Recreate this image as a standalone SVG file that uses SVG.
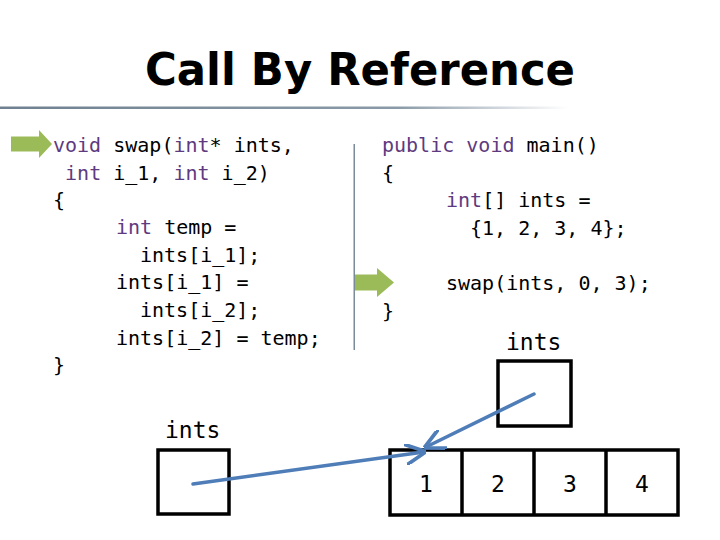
<svg xmlns="http://www.w3.org/2000/svg" width="720" height="540" viewBox="0 0 720 540">
<defs>
<linearGradient id="tl" x1="0" y1="0" x2="1" y2="0">
<stop offset="0" stop-color="#6f8190"/>
<stop offset="0.7" stop-color="#8a9aa8"/>
<stop offset="1" stop-color="#8a9aa8" stop-opacity="0"/>
</linearGradient>
<marker id="ah" viewBox="0 0 10 10" refX="9" refY="5" markerWidth="6" markerHeight="6" orient="auto" markerUnits="strokeWidth">
<path d="M0,0 L10,5 L0,10" fill="none" stroke="#4f7db8" stroke-width="1.8"/>
</marker>
</defs>
<style>
.code{font-family:"DejaVu Sans Mono","Liberation Mono",monospace;font-size:20px;fill:#000}
.kw{fill:#5e3a80}
.lbl{font-family:"DejaVu Sans Mono","Liberation Mono",monospace;font-size:23px;fill:#000}
.num{font-family:"DejaVu Sans Mono","Liberation Mono",monospace;font-size:23px;fill:#000;text-anchor:middle}
.box{fill:#fff;stroke:#000;stroke-width:3.5}
.green{fill:#9bbb59}
.link{stroke:#4f7db8;stroke-width:3.5;fill:none;stroke-linecap:round}
</style>
<rect width="720" height="540" fill="#fff"/>
<g id="title">
<text x="360" y="85" text-anchor="middle" font-family="DejaVu Sans,Verdana,sans-serif" font-weight="bold" font-size="44" textLength="430" lengthAdjust="spacingAndGlyphs">Call By Reference</text>
<rect x="0" y="106.5" width="568" height="2.5" fill="url(#tl)"/>
</g>
<rect id="divider" x="353.5" y="144" width="1.5" height="206" fill="#7a8c9c"/>
<g id="swap-code">
<text class="code" x="53" y="152"><tspan class="kw">void</tspan> swap(<tspan class="kw">int</tspan>* ints,</text>
<text class="code" x="53" y="180" xml:space="preserve"> <tspan class="kw">int</tspan> i_1, <tspan class="kw">int</tspan> i_2)</text>
<text class="code" x="53" y="207">{</text>
<text class="code" x="116" y="234"><tspan class="kw">int</tspan> temp =</text>
<text class="code" x="140" y="262">ints[i_1];</text>
<text class="code" x="116" y="289">ints[i_1] =</text>
<text class="code" x="140" y="317">ints[i_2];</text>
<text class="code" x="116" y="345">ints[i_2] = temp;</text>
<text class="code" x="53" y="372">}</text>
</g>
<g id="main-code">
<text class="code" x="382" y="152"><tspan class="kw">public</tspan> <tspan class="kw">void</tspan> main()</text>
<text class="code" x="382" y="180">{</text>
<text class="code" x="446" y="207"><tspan class="kw">int</tspan>[] ints =</text>
<text class="code" x="470" y="235">{1, 2, 3, 4};</text>
<text class="code" x="446" y="290">swap(ints, 0, 3);</text>
<text class="code" x="382" y="318">}</text>
</g>
<g id="arrow-swap">
<path class="green" d="M11,136.5 L39,136.5 L39,130 L52,144 L39,158 L39,151.5 L11,151.5 Z"/>
</g>
<g id="arrow-main">
<path class="green" d="M355,274.5 L377,274.5 L377,268 L394,282.5 L377,297 L377,290.5 L355,290.5 Z"/>
</g>
<g id="main-ints">
<text class="lbl" x="506" y="350">ints</text>
<rect class="box" x="498" y="361" width="73" height="65"/>
</g>
<g id="swap-ints">
<text class="lbl" x="165" y="438">ints</text>
<rect class="box" x="158" y="450" width="71" height="64"/>
</g>
<g id="array">
<rect class="box" x="390" y="450" width="288" height="65"/>
<line x1="462" y1="450" x2="462" y2="515" stroke="#000" stroke-width="3.5"/>
<line x1="534" y1="450" x2="534" y2="515" stroke="#000" stroke-width="3.5"/>
<line x1="606" y1="450" x2="606" y2="515" stroke="#000" stroke-width="3.5"/>
<text class="num" x="426" y="492">1</text>
<text class="num" x="498" y="492">2</text>
<text class="num" x="570" y="492">3</text>
<text class="num" x="642" y="492">4</text>
</g>
<g id="connectors">
<line class="link" x1="193" y1="484" x2="424" y2="452" marker-end="url(#ah)"/>
<line class="link" x1="534" y1="394" x2="426" y2="447" marker-end="url(#ah)"/>
</g>
</svg>
